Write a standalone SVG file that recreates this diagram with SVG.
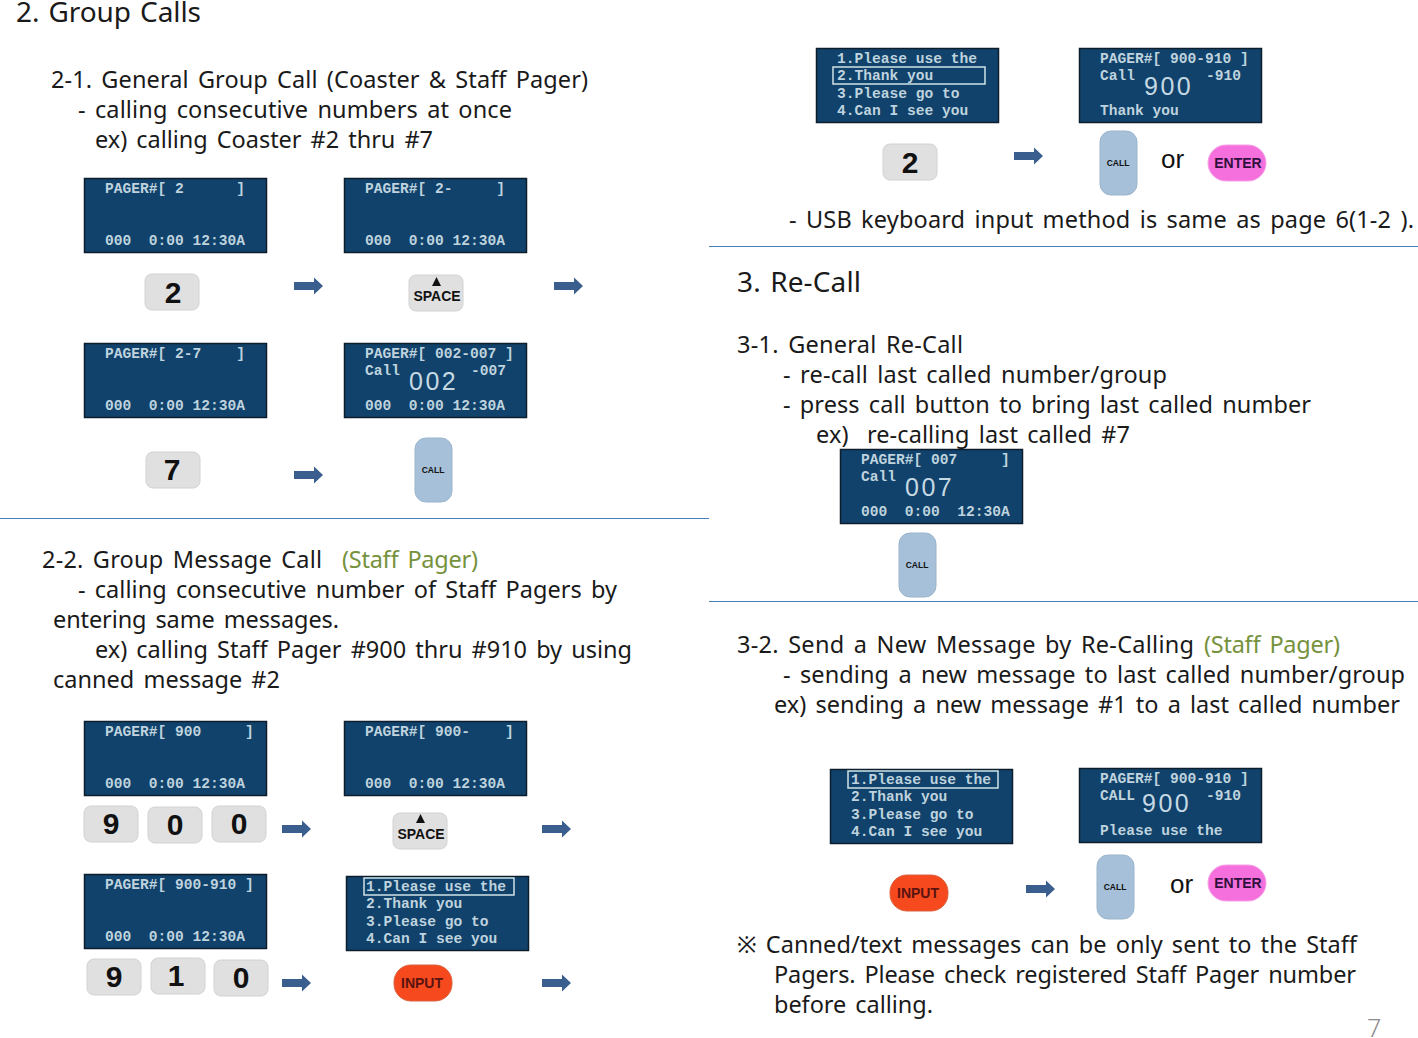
<svg xmlns="http://www.w3.org/2000/svg" width="1418" height="1038" viewBox="0 0 1418 1038">
<style>
.t{font-family:"Noto Sans","Open Sans",sans-serif;font-size:23.500px;fill:#1a1a1a;word-spacing:3px}
.h{font-size:28px;word-spacing:2px}
.g{fill:#76923c}
.scr{fill:#10426b;stroke:#0c1d2c;stroke-width:1.5}
.m{font-family:"Liberation Mono",monospace;font-weight:bold;font-size:14.58px;fill:#bfd3de;white-space:pre}
.big{font-family:"Liberation Sans",sans-serif;font-size:25px;fill:#c6d9e3;letter-spacing:2.500px}
.hl{fill:none;stroke:#cfe3e6;stroke-width:1.5}
.key{fill:#e0e0e0;stroke:#d2d2d2;stroke-width:1}
.d{font-family:"Liberation Sans",sans-serif;font-weight:bold;font-size:30px;fill:#111;text-anchor:middle}
.s{font-family:"Liberation Sans",sans-serif;font-weight:bold;font-size:14px;fill:#111;text-anchor:middle}
.call{fill:#a5c0d8;stroke:#9bb5cc;stroke-width:1}
.c{font-family:"Liberation Sans",sans-serif;font-weight:bold;font-size:8.500px;fill:#111;text-anchor:middle}
.enter{fill:#f570dc;stroke:#f8a0e8;stroke-width:1}
.input{fill:#f6491e;stroke:#d9633f;stroke-width:1}
.b{font-family:"Liberation Sans",sans-serif;font-weight:bold;font-size:14px;text-anchor:middle}
.or{font-family:"Liberation Sans",sans-serif;font-size:26px;fill:#111}
.rule{stroke:#4a7ebb;stroke-width:1}
.arrow{fill:#3a5f8f}
</style>
<defs>
<path id="arr" class="arrow" d="M0-4H20V-8.500L29 0L20 8.500V4H0Z"/>
<rect id="sc" class="scr" x="0.500" y="0.500" width="182" height="74"/>
<rect id="kb" class="key" width="54" height="36" rx="7"/>
<rect id="cb" class="call" width="37" height="64" rx="11"/>
<rect id="eb" class="enter" width="58" height="36" rx="18"/>
<rect id="ib" class="input" width="58" height="36" rx="17"/>
</defs>

<g id="text-left">
<text class="t h" x="16" y="22" textLength="185">2. Group Calls</text>
<text class="t" x="51" y="88" textLength="537">2-1. General Group Call (Coaster &amp; Staff Pager)</text>
<text class="t" x="78" y="118" textLength="434">- calling consecutive numbers at once</text>
<text class="t" x="95" y="148" textLength="338">ex) calling Coaster #2 thru #7</text>
<text class="t" x="42" y="568" textLength="280">2-2. Group Message Call</text>
<text class="t g" x="342" y="568" textLength="136">(Staff Pager)</text>
<text class="t" x="78" y="598" textLength="539">- calling consecutive number of Staff Pagers by</text>
<text class="t" x="53" y="628" textLength="286">entering same messages.</text>
<text class="t" x="95" y="658" textLength="537">ex) calling Staff Pager #900 thru #910 by using</text>
<text class="t" x="53" y="688" textLength="227">canned message #2</text>
</g>
<g id="text-right">
<text class="t" x="789" y="228" textLength="625">- USB keyboard input method is same as page 6(1-2 ).</text>
<text class="t h" x="737" y="292" textLength="124">3. Re-Call</text>
<text class="t" x="737" y="353" textLength="226">3-1. General Re-Call</text>
<text class="t" x="783" y="383" textLength="384">- re-call last called number/group</text>
<text class="t" x="783" y="413" textLength="528">- press call button to bring last called number</text>
<text class="t" x="816" y="443" textLength="314" xml:space="preserve">ex)  re-calling last called #7</text>
<text class="t" x="737" y="653" textLength="457">3-2. Send a New Message by Re-Calling</text>
<text class="t g" x="1204" y="653" textLength="136">(Staff Pager)</text>
<text class="t" x="783" y="683" textLength="622">- sending a new message to last called number/group</text>
<text class="t" x="774" y="713" textLength="626">ex) sending a new message #1 to a last called number</text>
<text class="t" x="737" y="953" textLength="620">※ Canned/text messages can be only sent to the Staff</text>
<text class="t" x="774" y="983" textLength="582">Pagers. Please check registered Staff Pager number</text>
<text class="t" x="774" y="1013" textLength="159">before calling.</text>
<text class="t" x="1367" y="1037" style="fill:#8c8c8c;font-weight:300;font-size:25px">7</text>
</g>
<g id="rules">
<line class="rule" x1="0" y1="518.500" x2="709" y2="518.500"/>
<line class="rule" x1="709" y1="246.500" x2="1418" y2="246.500"/>
<line class="rule" x1="709" y1="601.500" x2="1418" y2="601.500"/>
</g>

<g id="screen-s1" transform="translate(84 178)"><use href="#sc"/><text class="m" x="21" y="15" xml:space="preserve">PAGER#[ 2      ]</text><text class="m" x="21" y="67" xml:space="preserve">000  0:00 12:30A</text></g>
<g id="screen-s2" transform="translate(344 178)"><use href="#sc"/><text class="m" x="21" y="15" xml:space="preserve">PAGER#[ 2-     ]</text><text class="m" x="21" y="67" xml:space="preserve">000  0:00 12:30A</text></g>
<g id="screen-s3" transform="translate(84 343)"><use href="#sc"/><text class="m" x="21" y="15" xml:space="preserve">PAGER#[ 2-7    ]</text><text class="m" x="21" y="67" xml:space="preserve">000  0:00 12:30A</text></g>
<g id="screen-s4" transform="translate(344 343)"><use href="#sc"/><text class="m" x="21" y="15" xml:space="preserve">PAGER#[ 002-007 ]</text><text class="m" x="21" y="32">Call</text><text class="big" x="65" y="47">002</text><text class="m" x="127" y="32">-007</text><text class="m" x="21" y="67" xml:space="preserve">000  0:00 12:30A</text></g>

<g id="key-2a" transform="translate(145 274)"><use href="#kb"/><text class="d" x="28" y="29">2</text></g>
<g id="key-space-a" transform="translate(409 275)"><use href="#kb"/><path d="M27.500 2L32 11H23Z" fill="#111"/><text class="s" x="28" y="26">SPACE</text></g>
<g id="key-7" transform="translate(146 452)"><use href="#kb"/><text class="d" x="26" y="28">7</text></g>
<g id="btn-call-a" transform="translate(415 438)"><use href="#cb"/><text class="c" x="18" y="35">CALL</text></g>

<g id="screen-m1" transform="translate(84 721)"><use href="#sc"/><text class="m" x="21" y="15" xml:space="preserve">PAGER#[ 900     ]</text><text class="m" x="21" y="67" xml:space="preserve">000  0:00 12:30A</text></g>
<g id="screen-m2" transform="translate(344 721)"><use href="#sc"/><text class="m" x="21" y="15" xml:space="preserve">PAGER#[ 900-    ]</text><text class="m" x="21" y="67" xml:space="preserve">000  0:00 12:30A</text></g>
<g id="screen-m3" transform="translate(84 874)"><use href="#sc"/><text class="m" x="21" y="15" xml:space="preserve">PAGER#[ 900-910 ]</text><text class="m" x="21" y="67" xml:space="preserve">000  0:00 12:30A</text></g>
<g id="screen-m4" transform="translate(346 876)"><use href="#sc"/><rect class="hl" x="18" y="2" width="150" height="17"/><text class="m" x="20" y="15">1.Please use the</text><text class="m" x="20" y="32">2.Thank you</text><text class="m" x="20" y="50">3.Please go to</text><text class="m" x="20" y="67">4.Can I see you</text></g>

<g id="key-9a" transform="translate(84 806)"><use href="#kb"/><text class="d" x="27" y="28">9</text></g>
<g id="key-0a" transform="translate(148 807)"><use href="#kb"/><text class="d" x="27" y="28">0</text></g>
<g id="key-0b" transform="translate(212 806)"><use href="#kb"/><text class="d" x="27" y="28">0</text></g>
<g id="key-space-b" transform="translate(393 813)"><use href="#kb"/><path d="M27.500 1L32 10H23Z" fill="#111"/><text class="s" x="28" y="26">SPACE</text></g>
<g id="key-9b" transform="translate(87 959)"><use href="#kb"/><text class="d" x="27" y="28">9</text></g>
<g id="key-1" transform="translate(151 958)"><use href="#kb"/><text class="d" x="25" y="28">1</text></g>
<g id="key-0c" transform="translate(214 960)"><use href="#kb"/><text class="d" x="27" y="28">0</text></g>
<g id="btn-input-a" transform="translate(394 965)"><use href="#ib"/><text class="b" x="28" y="23" fill="#5a1410">INPUT</text></g>

<g id="screen-r1" transform="translate(816 48)"><use href="#sc"/><rect class="hl" x="17" y="19" width="152" height="17"/><text class="m" x="21" y="15">1.Please use the</text><text class="m" x="21" y="32">2.Thank you</text><text class="m" x="21" y="50">3.Please go to</text><text class="m" x="21" y="67">4.Can I see you</text></g>
<g id="screen-r2" transform="translate(1079 48)"><use href="#sc"/><text class="m" x="21" y="15" xml:space="preserve">PAGER#[ 900-910 ]</text><text class="m" x="21" y="32">Call</text><text class="big" x="65" y="47">900</text><text class="m" x="127" y="32">-910</text><text class="m" x="21" y="67">Thank you</text></g>
<g id="key-2b" transform="translate(883 144)"><use href="#kb"/><text class="d" x="27" y="29">2</text></g>
<g id="btn-call-b" transform="translate(1100 131)"><use href="#cb"/><text class="c" x="18" y="35">CALL</text></g>
<text class="or" x="1161" y="168">or</text>
<g id="btn-enter-a" transform="translate(1208 145)"><use href="#eb"/><text class="b" x="30" y="23" fill="#30103c">ENTER</text></g>

<g id="screen-r3" transform="translate(840 449)"><use href="#sc"/><text class="m" x="21" y="15" xml:space="preserve">PAGER#[ 007     ]</text><text class="m" x="21" y="32">Call</text><text class="big" x="65" y="47">007</text><text class="m" x="21" y="67" xml:space="preserve">000  0:00  12:30A</text></g>
<g id="btn-call-c" transform="translate(899 533)"><use href="#cb"/><text class="c" x="18" y="35">CALL</text></g>

<g id="screen-r4" transform="translate(830 769)"><use href="#sc"/><rect class="hl" x="18" y="2" width="150" height="17"/><text class="m" x="21" y="15">1.Please use the</text><text class="m" x="21" y="32">2.Thank you</text><text class="m" x="21" y="50">3.Please go to</text><text class="m" x="21" y="67">4.Can I see you</text></g>
<g id="screen-r5" transform="translate(1079 768)"><use href="#sc"/><text class="m" x="21" y="15" xml:space="preserve">PAGER#[ 900-910 ]</text><text class="m" x="21" y="32">CALL</text><text class="big" x="63" y="44">900</text><text class="m" x="127" y="32">-910</text><text class="m" x="21" y="67">Please use the</text></g>
<g id="btn-input-b" transform="translate(890 875)"><use href="#ib"/><text class="b" x="28" y="23" fill="#5a1410">INPUT</text></g>
<g id="btn-call-d" transform="translate(1097 855)"><use href="#cb"/><text class="c" x="18" y="35">CALL</text></g>
<text class="or" x="1170" y="893">or</text>
<g id="btn-enter-b" transform="translate(1208 865)"><use href="#eb"/><text class="b" x="30" y="23" fill="#30103c">ENTER</text></g>

<g id="connectors">
<use href="#arr" x="294" y="286"/>
<use href="#arr" x="554" y="286"/>
<use href="#arr" x="294" y="475"/>
<use href="#arr" x="282" y="829"/>
<use href="#arr" x="542" y="829"/>
<use href="#arr" x="282" y="983"/>
<use href="#arr" x="542" y="983"/>
<use href="#arr" x="1014" y="156"/>
<use href="#arr" x="1026" y="889"/>
</g>
</svg>
